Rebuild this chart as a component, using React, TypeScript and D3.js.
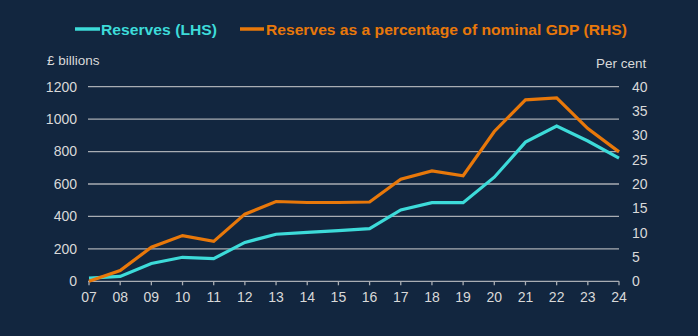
import React from "react";
import * as d3 from "d3";

const years = ["07","08","09","10","11","12","13","14","15","16","17","18","19","20","21","22","23","24"];
const reserves = [20, 30, 110, 148, 140, 240, 290, 302, 312, 325, 440, 485, 485, 642, 858, 957, 865, 760];
const reservesPctGdp = [0, 2.2, 7.0, 9.4, 8.2, 13.8, 16.4, 16.2, 16.2, 16.3, 21.0, 22.7, 21.7, 30.8, 37.3, 37.7, 31.4, 26.6];
const leftTicks = [0, 200, 400, 600, 800, 1000, 1200];
const rightTicks = [0, 5, 10, 15, 20, 25, 30, 35, 40];
const legendLabels = ["Reserves (LHS)", "Reserves as a percentage of nominal GDP (RHS)"];
const leftTitle = "£ billions";
const rightTitle = "Per cent";

const W = 698, H = 336;
const BG = "#12263f";
const CYAN = "#3ddbd9";
const ORANGE = "#e8780a";
const GRID = "#a9adb3";
const TXT = "#d9d9d9";
const FONT = "'Liberation Sans', Arial, sans-serif";

export default function App() {
  const x = d3.scalePoint<string>().domain(years).range([89, 619]);
  const yL = d3.scaleLinear().domain([0, 1200]).range([281.3, 86.7]);
  const yR = d3.scaleLinear().domain([0, 40]).range([281.3, 86.7]);

  const lineL = d3.line<number>().x((_, i) => x(years[i])!).y(d => yL(d));
  const lineR = d3.line<number>().x((_, i) => x(years[i])!).y(d => yR(d));

  return (
    <svg width={W} height={H} style={{ position: "absolute", left: 0, top: 0, display: "block" }}>
      <rect x={0} y={0} width={W} height={H} fill={BG} />
      {/* legend */}
      <line x1={75} x2={100} y1={29} y2={29} stroke={CYAN} strokeWidth={3.5} />
      <text x={101} y={34.5} fill={CYAN} fontFamily={FONT} fontWeight="bold" fontSize={15}
        textLength={116} lengthAdjust="spacingAndGlyphs">{legendLabels[0]}</text>
      <line x1={240} x2={264} y1={29} y2={29} stroke={ORANGE} strokeWidth={3.5} />
      <text x={266} y={34.5} fill={ORANGE} fontFamily={FONT} fontWeight="bold" fontSize={15}
        textLength={361} lengthAdjust="spacingAndGlyphs">{legendLabels[1]}</text>
      {/* axis titles */}
      <text x={47} y={65} fill={TXT} fontFamily={FONT} fontSize={13.5}>{leftTitle}</text>
      <text x={596} y={68} fill={TXT} fontFamily={FONT} fontSize={13.5}>{rightTitle}</text>
      {/* gridlines */}
      {leftTicks.map(t => (
        <line key={"g" + t} x1={88} x2={619} y1={yL(t)} y2={yL(t)} stroke={GRID} strokeWidth={1.3} />
      ))}
      {/* x ticks */}
      {years.map(yr => (
        <line key={"xt" + yr} x1={x(yr)} x2={x(yr)} y1={yL(0)} y2={yL(0) + 4} stroke={GRID} strokeWidth={1.3} />
      ))}
      {/* left labels */}
      {leftTicks.map(t => (
        <text key={"l" + t} x={77} y={yL(t)} dy="0.35em" textAnchor="end" fill={TXT} fontFamily={FONT} fontSize={14}>{t}</text>
      ))}
      {/* right labels */}
      {rightTicks.map(t => (
        <text key={"r" + t} x={632} y={yR(t)} dy="0.35em" textAnchor="start" fill={TXT} fontFamily={FONT} fontSize={14}>{t}</text>
      ))}
      {/* x labels */}
      {years.map(yr => (
        <text key={"xl" + yr} x={x(yr)} y={297} dy="0.35em" textAnchor="middle" fill={TXT} fontFamily={FONT} fontSize={14}>{yr}</text>
      ))}
      {/* lines */}
      <path d={lineL(reserves)!} fill="none" stroke={CYAN} strokeWidth={3.2} />
      <path d={lineR(reservesPctGdp)!} fill="none" stroke={ORANGE} strokeWidth={3.2} />
    </svg>
  );
}
